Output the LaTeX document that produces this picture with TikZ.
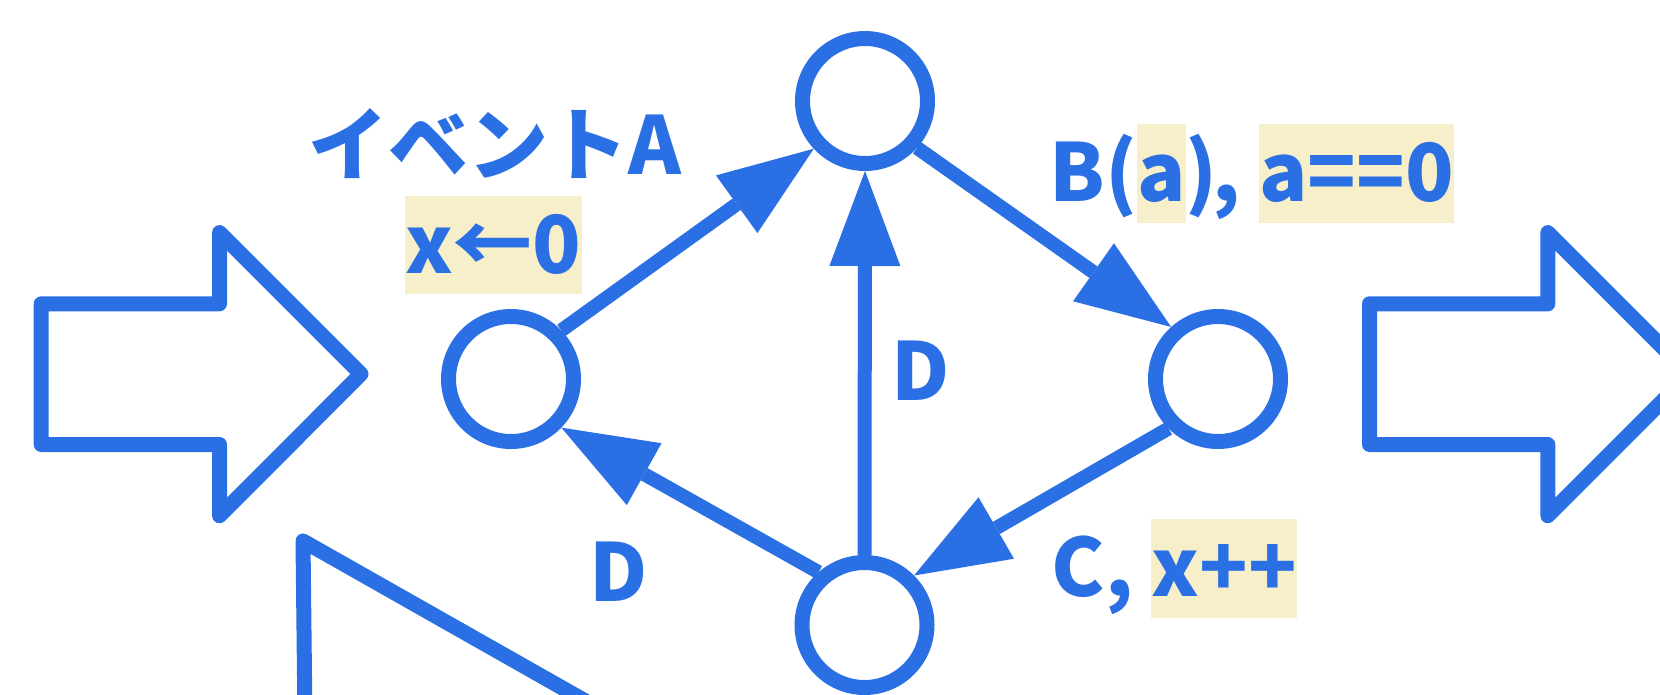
\documentclass[tikz,border=0pt]{standalone}
\usepackage{fontspec}
\setmainfont{Noto Sans CJK JP}
\usetikzlibrary{arrows.meta}
\definecolor{bl}{HTML}{2A70E4}
\definecolor{hl}{HTML}{F6EFC9}
\newcommand{\hlbox}[1]{{\setlength{\fboxsep}{0pt}\colorbox{hl}{\rule[-0.26em]{0pt}{1.23em}#1}}}
\begin{document}
\begin{tikzpicture}[x=1pt,y=-1pt,
  st/.style={circle,draw=bl,line width=15pt,fill=white,minimum size=125pt,inner sep=0pt},
  ed/.style={draw=bl,line width=14pt,-{Triangle[length=95pt,width=71pt,line width=0pt]}},
  lab/.style={text=bl,font=\fontsize{80}{96}\selectfont\bfseries,inner sep=0pt},
  big/.style={draw=bl,line width=15pt,line join=round,fill=white}]
\useasboundingbox (0,0) rectangle (1660,694);
\clip (0,0) rectangle (1660,694);
% big outline arrows
\draw[big] (41.2,303.8) -- (219.5,303.8) -- (219.5,232.5) -- (361,374) -- (219.5,515.8) -- (219.5,444.5) -- (41.2,444.5) -- cycle;
\draw[big,xshift=1328.3pt] (41.2,303.8) -- (219.5,303.8) -- (219.5,232.5) -- (361,374) -- (219.5,515.8) -- (219.5,444.5) -- (41.2,444.5) -- cycle;
% triangle at bottom left
\draw[big,fill=none] (306.4,847) -- (303,541) -- (843,847);
% states
\node[st] (T) at (865,101) {};
\node[st] (L) at (511,379) {};
\node[st] (R) at (1218,379) {};
\node[st] (B) at (864.5,625) {};
% transitions
\draw[ed] (L.44) -- (T.223);
\draw[ed] (T.318) -- (R.132);
\draw[ed] (R.225) -- (B.45);
\draw[ed] (B.131) -- (L.316);
\draw[ed] (B.90) -- (T.270);
% labels
\node[lab,anchor=base] (ea) at (495,174) {イベントA};
\node[lab,anchor=base] (x0) at (493.3,273.3) {\hlbox{x←0}};
\node[lab,anchor=base west] (bl) at (1049.5,201.7) {B(\hlbox{a})\kern-5pt, \hlbox{a==0}};
\node[lab,anchor=base west] (cl) at (1051.5,596.7) {C, \hlbox{x++}};
\node[lab,anchor=base] (d1) at (920.5,400) {D};
\node[lab,anchor=base] (d2) at (619,601.3) {D};
\end{tikzpicture}
\end{document}
